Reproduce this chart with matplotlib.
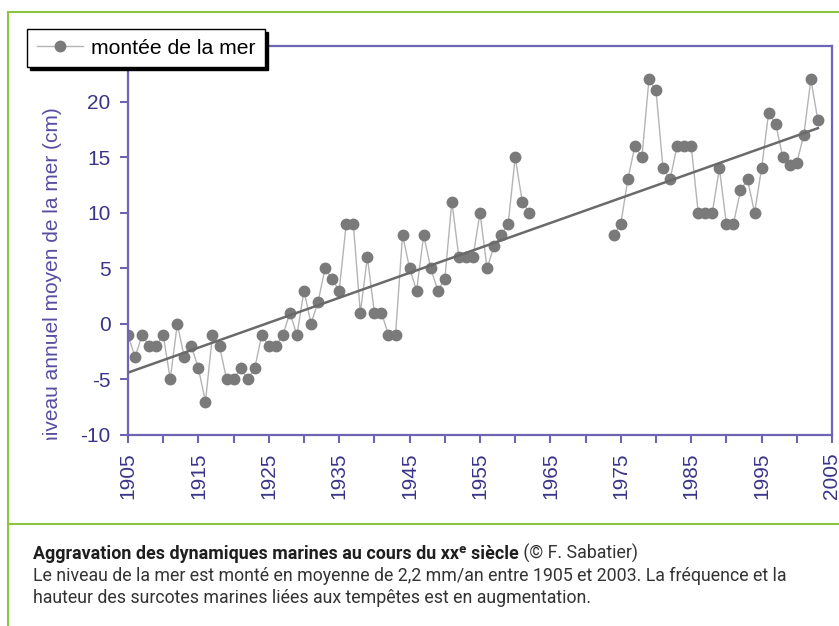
import numpy as np
import matplotlib
matplotlib.use("Agg")
import matplotlib.pyplot as plt
from matplotlib.lines import Line2D
from matplotlib.patches import Rectangle

nan = np.nan

# annual mean sea level (cm), 1905-2003, gap 1963-1973
years = np.arange(1905, 2004)
level = [
    -1, -3, -1, -2, -2, -1, -5, 0, -3, -2,
    -4, -7, -1, -2, -5, -5, -4, -5, -4, -1,
    -2, -2, -1, 1, -1, 3, 0, 2, 5, 4,
    3, 9, 9, 1, 6, 1, 1, -1, -1, 8,
    5, 3, 8, 5, 3, 4, 11, 6, 6, 6,
    10, 5, 7, 8, 9, 15, 11, 10,
    nan, nan, nan, nan, nan, nan, nan, nan, nan, nan, nan,
    8, 9, 13, 16, 15, 22, 21, 14, 13, 16,
    16, 16, 10, 10, 10, 14, 9, 9, 12, 13,
    10, 14, 19, 18, 15, 14.3, 14.5, 17, 22, 18.3,
]
level = np.array(level, dtype=float)

xticks = list(range(1905, 2006, 10))
yticks = [-10, -5, 0, 5, 10, 15, 20]

series_label = "montée de la mer"
ylabel = "niveau annuel moyen de la mer (cm)"
caption_bold = "Aggravation des dynamiques marines au cours du xxᵉ siècle"
caption_src = " (© F. Sabatier)"
caption_lines = ["Le niveau de la mer est monté en moyenne de 2,2 mm/an entre 1905 et 2003. La fréquence et la",
                 "hauteur des surcotes marines liées aux tempêtes est en augmentation."]

W, H = 839, 626
axis_col = "#6e64b4"
label_col = "#3a3488"
green = "#8cc63f"

plt.rcParams["font.family"] = ["Liberation Sans", "DejaVu Sans"]
plt.rcParams["axes.unicode_minus"] = False

fig = plt.figure(figsize=(W / 100, H / 100), dpi=100)
ax = fig.add_axes([128 / W, 1 - 435 / H, 704 / W, 389 / H])

ok = ~np.isnan(level)
coef = np.polyfit(years[ok], level[ok], 1)
trend_x = np.array([years[0], years[-1]])
trend_y = np.polyval(coef, trend_x)

ax.plot(years, level, color="#b4b4b4", lw=1, marker="o", ms=7.5,
        mfc="#7a7a7a", mec="#7a7a7a", label=series_label, zorder=2)
ax.plot(trend_x, trend_y, color="#6a6a6a", lw=1.8, zorder=3)

ax.set_xlim(1905, 2005)
ax.set_ylim(-10, 25)
ax.set_xticks(xticks)
ax.set_xticks(range(1910, 2006, 10), minor=True)
ax.set_yticks(yticks)
ax.tick_params(which="both", direction="out", length=5.5, width=1.5, color=axis_col)
ax.tick_params(labelcolor=label_col, labelsize=15, pad=7)
for t in ax.get_xticklabels():
    t.set_rotation(90)
for s in ax.spines.values():
    s.set_color(axis_col)
    s.set_linewidth(1.6)

leg = ax.legend(loc="upper left", bbox_to_anchor=(27 / W, 1 - 29 / H),
                bbox_transform=fig.transFigure, fontsize=15.2, frameon=True,
                fancybox=False, shadow={"color": "black", "alpha": 1},
                edgecolor="black", framealpha=1, borderaxespad=0,
                borderpad=0.45, handlelength=2.2, handletextpad=0.4)
leg.get_frame().set_linewidth(1.0)

# y label is cut at its start in the reference
yl = fig.text(53 / W, 1 - 107 / H, ylabel, rotation=90, ha="center", va="top",
              fontsize=15, color="#574da0")
yl.set_clip_path(Rectangle((0, 1 - 440 / H), 1, 1, transform=fig.transFigure))

# green frame lines
for xs, ys in [([8 / W, 1], [1 - 12 / H] * 2), ([8 / W] * 2, [0, 1 - 12 / H]), ([8 / W, 1], [1 - 524 / H] * 2)]:
    fig.add_artist(Line2D(xs, ys, color=green, lw=1.5, transform=fig.transFigure))

# caption: no condensed font installed, so fit size to the reference line widths
cap_font = ["Roboto", "DejaVu Sans"]
renderer = fig.canvas.get_renderer()

body = []
for i, line in enumerate(caption_lines):
    body.append(fig.text(33 / W, 1 - (581 + 22 * i) / H, line, fontsize=11, color="#333333",
                         family=cap_font, va="baseline"))
w = body[0].get_window_extent(renderer).width
size = 11 * 750 / w
for t in body:
    t.set_fontsize(size)

t1 = fig.text(33 / W, 1 - 559 / H, caption_bold, fontsize=11, fontweight="bold",
              color="#1e1e1e", family=cap_font, va="baseline")
w = t1.get_window_extent(renderer).width
t1.set_fontsize(11 * 483 / w)
ax.annotate(caption_src, xy=(1, 0), xycoords=t1, va="bottom", ha="left",
            fontsize=size, color="#333333", family=cap_font, annotation_clip=False)

fig.savefig("out.png", dpi=100)
